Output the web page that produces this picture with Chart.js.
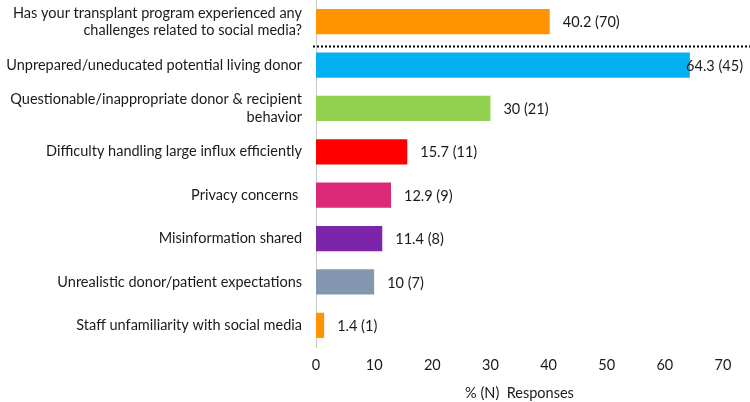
<!DOCTYPE html>
<html>
<head>
<meta charset="utf-8">
<script src="https://cdn.jsdelivr.net/npm/chart.js@4.4.1/dist/chart.umd.min.js"></script>
<style>
  body { margin: 0; background: #fff; }
  #wrap { width: 750px; height: 402px; }
</style>
</head>
<body>
<div id="wrap"><canvas id="myChart"></canvas></div>
<script>
var labels = [
    ["Has your transplant program experienced any", "challenges related to social media?"],
    "Unprepared/uneducated potential living donor",
    ["Questionable/inappropriate donor & recipient", "behavior"],
    "Difficulty handling large influx efficiently",
    "Privacy concerns ",
    "Misinformation shared",
    "Unrealistic donor/patient expectations",
    "Staff unfamiliarity with social media"
];
var percents = [40.2, 64.3, 30, 15.7, 12.9, 11.4, 10, 1.4];
var counts = [70, 45, 21, 11, 9, 8, 7, 1];
var barColors = ['#FF9300', '#00B0F0', '#92D050', '#FF0000', '#DD2A78', '#7B26AA', '#8497B0', '#FF9300'];

var ctx = document.getElementById("myChart").getContext('2d');
var fontName = "Lato, 'Noto Sans', sans-serif";

var valueLabels = {
    id: 'valueLabels',
    afterDatasetsDraw: function (chart) {
        var c = chart.ctx;
        var meta = chart.getDatasetMeta(0);
        c.save();
        c.font = "14.5px " + fontName;
        c.fillStyle = '#1a1a1a';
        c.textBaseline = 'middle';
        meta.data.forEach(function (bar, i) {
            var txt = percents[i] + " (" + counts[i] + ")";
            var w = c.measureText(txt).width;
            var x = Math.min(bar.x + 13, chart.width - w - 7);
            c.fillText(txt, x, bar.y + 1);
        });
        c.restore();
    }
};

var dottedLine = {
    id: 'dottedLine',
    afterDatasetsDraw: function (chart) {
        var meta = chart.getDatasetMeta(0);
        var y = (meta.data[0].y + meta.data[1].y) / 2 + 3;
        var c = chart.ctx;
        c.save();
        c.strokeStyle = '#000';
        c.lineWidth = 2;
        c.setLineDash([2, 2]);
        c.beginPath();
        c.moveTo(chart.chartArea.left - 3, y);
        c.lineTo(chart.width, y);
        c.stroke();
        c.restore();
    }
};

var myChart = new Chart(ctx, {
    type: 'bar',
    data: {
        labels: labels,
        datasets: [{
            data: percents,
            backgroundColor: barColors,
            barPercentage: 0.58,
            categoryPercentage: 1
        }]
    },
    plugins: [valueLabels, dottedLine],
    options: {
        indexAxis: 'y',
        responsive: true,
        maintainAspectRatio: false,
        animation: false,
        layout: { padding: { top: 0, right: 27, left: 0, bottom: 0 } },
        plugins: {
            legend: { display: false },
            tooltip: { enabled: false }
        },
        scales: {
            x: {
                min: 0,
                max: 70,
                grid: { display: false, drawTicks: false },
                border: { display: false },
                ticks: {
                    stepSize: 10,
                    padding: 10,
                    color: '#1a1a1a',
                    font: { family: fontName, size: 14.5 }
                },
                title: {
                    display: true,
                    text: '% (N)  Responses',
                    color: '#1a1a1a',
                    padding: { top: 3, bottom: 0 },
                    font: { family: fontName, size: 14.5 }
                },
                afterFit: function (scale) { scale.height = 55; }
            },
            y: {
                grid: { display: false, drawTicks: false },
                border: { display: true, color: '#c8c8c8', width: 1 },
                ticks: {
                    padding: 14,
                    autoSkip: false,
                    color: '#1a1a1a',
                    font: { family: fontName, size: 14.5, lineHeight: 1.2 }
                },
                afterFit: function (scale) {
                    scale.width = 316;
                    scale.paddingTop = 0;
                    scale.paddingBottom = 0;
                }
            }
        }
    }
});
</script>
</body>
</html>
